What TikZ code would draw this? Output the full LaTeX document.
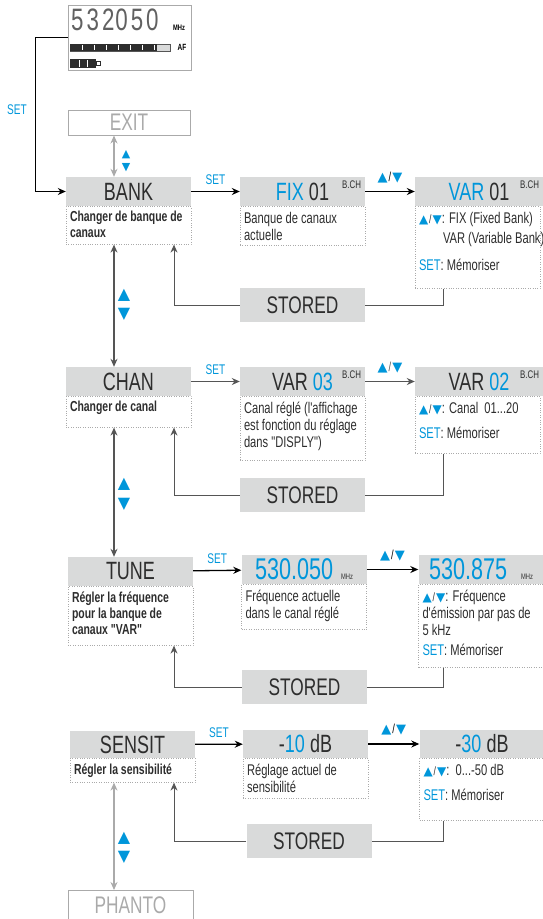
\documentclass[tikz,border=0pt]{standalone}
\usepackage{fontspec}
\setmainfont{Liberation Sans}[FakeStretch=0.72, Ligatures=TeXOff]
\newfontfamily\symfont{DejaVu Sans}
\usetikzlibrary{calc}
\usetikzlibrary{positioning}
\usetikzlibrary{arrows.meta}

\definecolor{setblue}{RGB}{0,150,218}
\definecolor{hdgray}{RGB}{217,218,218}
\definecolor{txtdark}{RGB}{45,45,45}
\definecolor{linedark}{RGB}{85,85,85}
\definecolor{ghostgray}{RGB}{170,170,170}

\newcommand{\triup}{{\color{setblue}\symfont ▲}}
\newcommand{\tridown}{{\color{setblue}\symfont ▼}}
\newcommand{\updown}{\triup\kern1pt/\kern1pt\tridown}
\newcommand{\updownsm}{{\fontsize{12}{12}\selectfont\updown}}

\begin{document}
\begin{tikzpicture}
  [
    x=1pt, y=-1pt,
    >={Stealth[length=8pt, width=7pt]},
    hd/.style     = {fill=hdgray, minimum width=125pt, minimum height=29pt, inner sep=0pt, text=txtdark, font=\fontsize{25}{25}\selectfont},
    ghost/.style  = {draw=ghostgray, line width=1pt, minimum width=122pt, minimum height=25pt, inner sep=0pt, text=ghostgray, font=\fontsize{24}{24}\selectfont},
    desc/.style   = {draw=ghostgray, dotted, inner xsep=4pt, inner ysep=3pt, text=txtdark},
    stored/.style = {fill=hdgray, minimum width=125pt, minimum height=34pt, inner sep=0pt, text=txtdark, font=\fontsize{24}{24}\selectfont},
    setlbl/.style = {text=setblue, font=\fontsize{14}{14}\selectfont, inner sep=1pt},
    bch/.style    = {font=\fontsize{11}{11}\selectfont, text=txtdark, inner sep=4pt},
    go/.style     = {->, line width=1.3pt, black},
    back/.style   = {->, line width=1pt, linedark},
    updn/.style   = {font=\fontsize{13}{13}\selectfont, inner sep=0pt},
  ]

  \def\dtxt#1#2{\parbox[c][#1][t]{117pt}{\vspace*{3pt}\raggedright\fontsize{15.5}{17}\selectfont #2}}
  \def\dbold#1#2{\parbox[c][#1][t]{117pt}{\vspace*{2pt}\raggedright\bfseries\fontsize{14.5}{16}\selectfont #2}}

  \useasboundingbox (0,0) rectangle (543,919);

  % guide columns
  \coordinate (col) at (114,0);
  \coordinate (retx) at (174,0);
  \coordinate (dropx) at (443,0);

  % the display
  \node (lcd) [draw=ghostgray, line width=0.8pt, minimum width=123pt, minimum height=65pt, inner sep=0pt] at (129.5,37.5) {};
  \node (lcdfreq) [anchor=west, inner sep=0pt, text=txtdark!75, font=\fontsize{31}{31}\selectfont] at (71,20) {5\kern3pt3\kern3pt2\kern1pt0\kern3pt5\kern3pt0};
  \node (lcdmhz) [font=\bfseries\fontsize{8}{8}\selectfont, inner sep=0pt] at (179,28) {MHz};
  \draw[linedark, line width=0.6pt] (70,44) rectangle (170,51);
  \fill[hdgray] (157,44.5) rectangle (170,50.5);
  \fill[txtdark] (70,44) rectangle (157,51);
  \foreach \x in {82,94,...,154} \draw[white, line width=0.6pt] (\x,45) -- (\x,50);
  \node (lcdaf) [font=\bfseries\fontsize{9}{9}\selectfont, inner sep=0pt] at (182,47.5) {AF};
  \fill[txtdark] (70,59) rectangle (96,68);
  \draw[white, line width=0.6pt] (79,60) -- (79,67) (87,60) -- (87,67);
  \draw[txtdark, line width=0.6pt] (96,61.5) rectangle (100,65.5);

  % entry from the display
  \node (bankhd) [hd] at (128.5,191.5) {BANK};
  \coordinate (setbend) at (35,37.5);
  \draw[go, line width=1pt] (lcd.west) -- (setbend) |- (bankhd.west);
  \node (set0) [setlbl] at (17,110) {SET};

  % EXIT
  \node (exit) [ghost] at (129,122.5) {EXIT};
  \draw[<->, ghostgray, line width=1.2pt] (exit.south -| col) -- (bankhd.north -| col);
  \node (up0) [updn, font=\fontsize{11}{11}\selectfont] at (126,155) {\triup};
  \node (dn0) [updn, font=\fontsize{11}{11}\selectfont] at (126,168) {\tridown};

  % Row 1: BANK
  \node (bankdesc) [desc, below=0pt of bankhd.south west, anchor=north west] {\dbold{32pt}{Changer de banque de canaux}};
  \node (fixhd) [hd, label={[bch, anchor=north east]north east:B.CH}] at (302.5,191.5) {{\color{setblue}FIX} 01};
  \node (fixdesc) [desc, below=0pt of fixhd.south west, anchor=north west] {\dtxt{33pt}{Banque de canaux actuelle}};
  \node (var01hd) [hd, minimum width=128pt, label={[bch, anchor=north east]north east:B.CH}] at (479,191.5) {{\color{setblue}VAR} 01};
  \node (var01desc) [desc, below=0pt of var01hd.south west, anchor=north west] {\dtxt{76pt}{\updownsm: FIX (Fixed Bank)\\[3pt] \hspace*{24pt}\mbox{VAR (Variable Bank)}\\[10pt] {\color{setblue}SET}: Mémoriser}};
  \draw[go] (bankhd) -- node (set1) [setlbl, above=5pt] {SET} (fixhd);
  \draw[go] (fixhd) -- node (sw1) [updn, above=8pt] {\updown} (var01hd);

  % stored loop 1
  \node (stored1) [stored] at (302.5,305) {STORED};
  \draw[line width=1pt, linedark] (var01desc.south -| dropx) |- (stored1.east);
  \draw[back] (stored1.west) -| (bankdesc.south -| retx);

  % Row 2: CHAN
  \node (chanhd) [hd] at (128.5,381.5) {CHAN};
  \node (chandesc) [desc, below=0pt of chanhd.south west, anchor=north west] {\dbold{25pt}{Changer de canal}};
  \draw[<->, linedark, line width=1.2pt] (bankdesc.south -| col) -- (chanhd.north -| col);
  \node (up1) [updn, font=\fontsize{16}{16}\selectfont] at (124,295) {\triup};
  \node (dn1) [updn, font=\fontsize{16}{16}\selectfont] at (124,314) {\tridown};
  \node (var03hd) [hd, label={[bch, anchor=north east]north east:B.CH}] at (302.5,381.5) {VAR {\color{setblue}03}};
  \node (var03desc) [desc, below=0pt of var03hd.south west, anchor=north west] {\dtxt{58pt}{Canal réglé (l'affichage est fonction du réglage dans "DISPLY")}};
  \node (var02hd) [hd, minimum width=128pt, label={[bch, anchor=north east]north east:B.CH}] at (479,381.5) {VAR {\color{setblue}02}};
  \node (var02desc) [desc, below=0pt of var02hd.south west, anchor=north west] {\dtxt{51pt}{\updownsm: Canal\ \ 01...20\\[8pt] {\color{setblue}SET}: Mémoriser}};
  \draw[go, linedark] (chanhd) -- node (set2) [setlbl, above=5pt] {SET} (var03hd);
  \draw[go, linedark] (var03hd) -- node (sw2) [updn, above=8pt] {\updown} (var02hd);

  % stored loop 2
  \node (stored2) [stored] at (302.5,495) {STORED};
  \draw[line width=1pt, linedark] (var02desc.south -| dropx) |- (stored2.east);
  \draw[back] (stored2.west) -| (chandesc.south -| retx);

  % Row 3: TUNE
  \node (tunehd) [hd] at (130.5,571.5) {TUNE};
  \node (tunedesc) [desc, below=0pt of tunehd.south west, anchor=north west] {\dbold{53pt}{Régler la fréquence pour la banque de canaux "VAR"}};
  \draw[<->, linedark, line width=1.2pt] (chandesc.south -| col) -- (tunehd.north -| col);
  \node (up2) [updn, font=\fontsize{16}{16}\selectfont] at (124,484) {\triup};
  \node (dn2) [updn, font=\fontsize{16}{16}\selectfont] at (124,504) {\tridown};
  \node (f050hd) [hd, font=\fontsize{30}{30}\selectfont] at (304,569.5) {{\color{setblue}530.050}\hspace{8pt}{\fontsize{8}{8}\selectfont MHz}};
  \node (f050desc) [desc, below=0pt of f050hd.south west, anchor=north west] {\dtxt{39pt}{Fréquence actuelle dans le canal réglé}};
  \node (f875hd) [hd, font=\fontsize{30}{30}\selectfont] at (481,569.5) {{\color{setblue}530.875}\hspace{14pt}{\fontsize{8}{8}\selectfont MHz}};
  \node (f875desc) [desc, below=0pt of f875hd.south west, anchor=north west] {\dtxt{77pt}{\updownsm: Fréquence\\ d'émission par pas de\\ 5 kHz\\[3pt] {\color{setblue}SET}: Mémoriser}};
  \draw[go] (tunehd) -- node (set3) [setlbl, above=5pt] {SET} (f050hd);
  \draw[go] (f050hd) -- node (sw3) [updn, above=8pt] {\updown} (f875hd);

  % stored loop 3
  \node (stored3) [stored] at (304.5,687) {STORED};
  \draw[line width=1pt, linedark] (f875desc.south -| dropx) |- (stored3.east);
  \draw[back] (stored3.west) -| (tunedesc.south -| retx);

  % Row 4: SENSIT
  \node (sensithd) [hd, minimum height=27pt] at (132.5,744.5) {SENSIT};
  \node (sensitdesc) [desc, below=0pt of sensithd.south west, anchor=north west] {\dbold{18pt}{Régler la sensibilité}};
  \node (m10hd) [hd, minimum height=28pt] at (305.5,744) {-{\color{setblue}10} dB};
  \node (m10desc) [desc, below=0pt of m10hd.south west, anchor=north west] {\dtxt{34pt}{Réglage actuel de sensibilité}};
  \node (m30hd) [hd, minimum height=28pt] at (482,744) {-{\color{setblue}30} dB};
  \node (m30desc) [desc, below=0pt of m30hd.south west, anchor=north west] {\dtxt{56pt}{\updownsm:\ \ 0...-50 dB\\[8pt] {\color{setblue}SET}: Mémoriser}};
  \draw[go] (sensithd) -- node (set4) [setlbl, above=5pt] {SET} (m10hd);
  \draw[go] (m10hd) -- node (sw4) [updn, above=8pt] {\updown} (m30hd);

  % stored loop 4
  \node (stored4) [stored] at (309,841) {STORED};
  \draw[line width=1pt, linedark] (m30desc.south -| dropx) |- (stored4.east);
  \draw[back] (stored4.west) -| (sensitdesc.south -| retx);

  % PHANTO
  \node (phanto) [ghost, minimum width=125pt, minimum height=29pt] at (130.5,905) {PHANTO};
  \draw[<->, ghostgray, line width=1.2pt] (sensitdesc.south -| col) -- (phanto.north -| col);
  \node (up3) [updn, font=\fontsize{16}{16}\selectfont] at (124,838) {\triup};
  \node (dn3) [updn, font=\fontsize{16}{16}\selectfont] at (124,857) {\tridown};
\end{tikzpicture}
\end{document}
